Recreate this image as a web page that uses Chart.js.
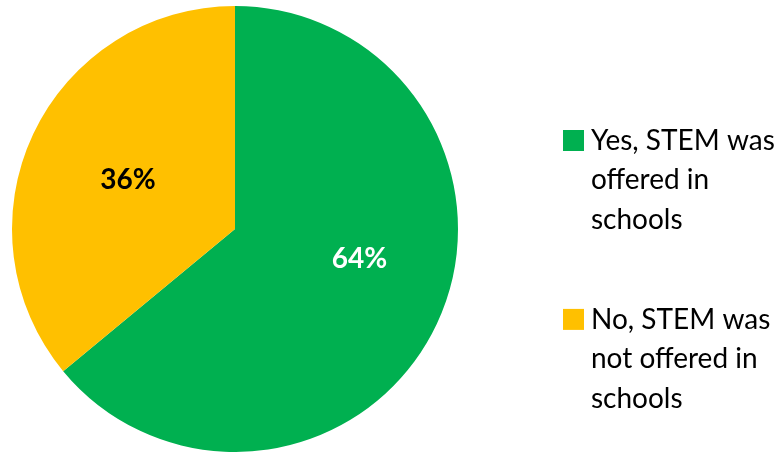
<!DOCTYPE html>
<html>
<head>
<meta charset="utf-8">
<title>STEM offered in schools</title>
<script src="https://cdn.jsdelivr.net/npm/chart.js"></script>
<style>
  html, body { margin: 0; padding: 0; background: #fff; }
  #wrap { position: relative; width: 783px; height: 452px; }
</style>
</head>
<body>
<div id="wrap"><canvas id="pie" width="783" height="452"></canvas></div>
<script>
// Survey answers, share of respondents
const categories = [
  ['Yes, STEM was', 'offered in', 'schools'],
  ['No, STEM was', 'not offered in', 'schools']
];
const shares = [64, 36];
const sliceColors = ['#00B050', '#FFC000'];
const valueLabelColors = ['#FFFFFF', '#000000'];

const FONT = 'Lato, "Open Sans", sans-serif';

// where each percentage sits: fraction of the radius, and a nudge (deg) from the slice middle
const labelPlacement = [
  { r: 0.573, turn: -12 },
  { r: 0.53, turn: 0 }
];

// percent labels drawn inside the slices
const valueLabels = {
  id: 'valueLabels',
  afterDatasetsDraw(chart) {
    const ctx = chart.ctx;
    const meta = chart.getDatasetMeta(0);
    const ds = chart.data.datasets[0];
    ctx.save();
    ctx.font = 'bold 28px ' + FONT;
    ctx.textAlign = 'center';
    ctx.textBaseline = 'middle';
    meta.data.forEach((arc, i) => {
      const p = labelPlacement[i];
      const mid = (arc.startAngle + arc.endAngle) / 2 + p.turn * Math.PI / 180;
      const d = arc.outerRadius * p.r;
      ctx.fillStyle = valueLabelColors[i];
      ctx.fillText(ds.data[i] + '%', arc.x + Math.cos(mid) * d, arc.y + Math.sin(mid) * d + 1);
    });
    ctx.restore();
  }
};

// legend on the right, one block of wrapped lines per category
const sideLegend = {
  id: 'sideLegend',
  afterDraw(chart) {
    const ctx = chart.ctx;
    const ds = chart.data.datasets[0];
    const boxX = 563, textX = 591, box = 21, lineH = 39.3, gap = 61;
    let top = 130;
    ctx.save();
    ctx.font = '28px ' + FONT;
    ctx.textAlign = 'left';
    ctx.textBaseline = 'alphabetic';
    chart.data.labels.forEach((lines, i) => {
      ctx.fillStyle = ds.backgroundColor[i];
      ctx.fillRect(boxX, top, box, box);
      ctx.fillStyle = '#000';
      lines.forEach((ln, k) => {
        ctx.fillText(ln, textX, top + 20 + k * lineH);
      });
      top += lines.length * lineH + gap;
    });
    ctx.restore();
  }
};

new Chart(document.getElementById('pie'), {
  type: 'pie',
  data: {
    labels: categories,
    datasets: [{
      data: shares,
      backgroundColor: sliceColors,
      borderWidth: 0,
      offset: 0,
      hoverOffset: 0
    }]
  },
  options: {
    responsive: false,
    animation: false,
    devicePixelRatio: 1,
    layout: { padding: { left: 12, top: 6, right: 325, bottom: 0 } },
    plugins: {
      legend: { display: false },
      tooltip: { enabled: false }
    }
  },
  plugins: [valueLabels, sideLegend]
});
</script>
</body>
</html>
